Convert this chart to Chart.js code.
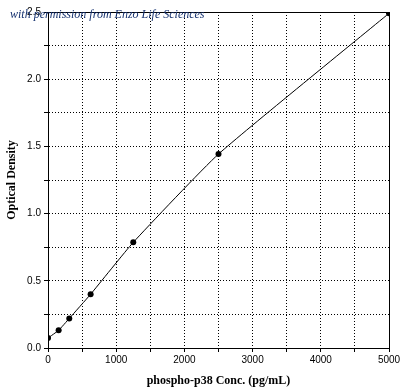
<!DOCTYPE html>
<html>
<head>
<meta charset="utf-8">
<script src="https://cdn.jsdelivr.net/npm/chart.js@4"></script>
<style>
  html, body { margin: 0; padding: 0; background: #fff; }
  #wrap { width: 405px; height: 392px; }
</style>
</head>
<body>
<div id="wrap"><canvas id="myChart" width="405" height="392"></canvas></div>
<script>
// standard curve readings
const concentrations = [0, 156, 312, 625, 1250, 2500, 5000];
const odValues = [0.074, 0.132, 0.22, 0.40, 0.786, 1.443, 2.49];

const xLabelEvery = 1000;
const yLabelEvery = 0.5;
const watermark = "with permission from Enzo Life Sciences";

// box around plot + the blue credit text
const boxPlugin = {
    id: 'boxPlugin',
    afterDraw(chart) {
        const ctx = chart.ctx;
        const a = chart.chartArea;
        ctx.save();
        ctx.strokeStyle = '#000';
        ctx.lineWidth = 1;
        ctx.strokeRect(Math.round(a.left) + 0.5, Math.round(a.top) + 0.5,
            Math.round(a.right - a.left), Math.round(a.bottom - a.top));
        ctx.font = 'italic 12px "Liberation Serif"';
        ctx.fillStyle = '#14306e';
        ctx.textBaseline = 'alphabetic';
        ctx.fillText(watermark, 10, 18);
        ctx.restore();
    }
};

let ctx = document.getElementById("myChart").getContext('2d');

new Chart(ctx, {
    type: 'line',
    data: {
        datasets: [{
            data: concentrations.map((c, i) => ({ x: c, y: odValues[i] })),
            borderColor: '#000',
            borderWidth: 1,
            backgroundColor: '#000',
            pointRadius: 3,
            pointBackgroundColor: '#000',
            pointBorderWidth: 0,
            tension: 0.15,
            fill: false
        }]
    },
    options: {
        responsive: false,
        animation: false,
        layout: { padding: { top: 12, right: 16, left: 0, bottom: 0 } },
        plugins: {
            legend: { display: false },
            tooltip: { enabled: false }
        },
        scales: {
            x: {
                type: 'linear',
                min: 0,
                max: 5000,
                afterFit: s => { s.height = 44; },
                ticks: {
                    stepSize: 500,
                    autoSkip: false,
                    maxRotation: 0,
                    color: '#000',
                    padding: 2,
                    font: { family: 'Liberation Sans', size: 10 },
                    callback: v => (v % xLabelEvery === 0 ? String(v) : '')
                },
                grid: {
                    color: '#000',
                    lineWidth: 1,
                    tickLength: 4,
                    tickColor: '#000',
                    tickBorderDash: []
                },
                border: { display: true, color: '#000', width: 1, dash: [1, 2] },
                title: {
                    display: true,
                    text: 'phospho-p38 Conc. (pg/mL)',
                    color: '#000',
                    font: { family: 'Liberation Serif', size: 12, weight: 'bold' },
                    padding: { top: 8 }
                }
            },
            y: {
                type: 'linear',
                min: 0,
                max: 2.5,
                afterFit: s => { s.width = 48; },
                ticks: {
                    stepSize: 0.25,
                    autoSkip: false,
                    color: '#000',
                    padding: 3,
                    font: { family: 'Liberation Sans', size: 10 },
                    callback: v => (Math.abs(v % yLabelEvery) < 1e-9 ? v.toFixed(1) : '')
                },
                grid: {
                    color: '#000',
                    lineWidth: 1,
                    tickLength: 4,
                    tickColor: '#000',
                    tickBorderDash: []
                },
                border: { display: true, color: '#000', width: 1, dash: [1, 2] },
                title: {
                    display: true,
                    text: 'Optical Density',
                    color: '#000',
                    font: { family: 'Liberation Serif', size: 12, weight: 'bold' },
                    padding: { top: 5, bottom: 4 }
                }
            }
        }
    },
    plugins: [boxPlugin]
});
</script>
</body>
</html>
